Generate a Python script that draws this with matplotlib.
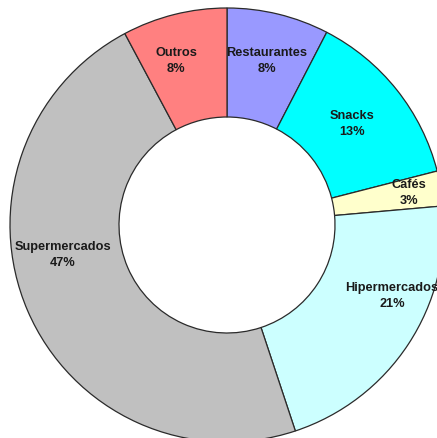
import matplotlib
matplotlib.use("Agg")
import matplotlib.pyplot as plt

# Data
categories = ["Restaurantes", "Snacks", "Cafés", "Hipermercados", "Supermercados", "Outros"]
shares = [7.6, 13.4, 2.6, 21.3, 47.3, 7.8]
colors = ["#9999ff", "#00ffff", "#ffffcc", "#ccffff", "#c0c0c0", "#ff8080"]

# Layout (pixel space)
W, H = 437, 439
cx, cy = 227, 226
R_out, R_in = 217, 108
label_pos = {
    "Restaurantes": (267, 61),
    "Snacks": (352, 124),
    "Cafés": (409, 193),
    "Hipermercados": (392, 296),
    "Supermercados": (63, 255),
    "Outros": (176, 61),
}

fig = plt.figure(figsize=(W / 100, H / 100), dpi=100)
ax = fig.add_axes([0, 0, 1, 1])
ax.set_xlim(0, W)
ax.set_ylim(0, H)
ax.set_aspect("equal")
ax.axis("off")

ax.pie(shares, colors=colors, startangle=90, counterclock=False,
       center=(cx, H - cy), radius=R_out,
       wedgeprops=dict(width=R_out - R_in, edgecolor="#2a2a2a", linewidth=0.9))

for cat, val in zip(categories, shares):
    x, y = label_pos[cat]
    ax.text(x, H - y, f"{cat}\n{val:.0f}%", ha="center", va="center",
            fontsize=9.2, fontweight="bold", family=["Liberation Sans", "DejaVu Sans"],
            color="#1a1a1a", linespacing=1.5)

ax.set_xlim(0, W)
ax.set_ylim(0, H)
fig.savefig("out.png", dpi=100)
